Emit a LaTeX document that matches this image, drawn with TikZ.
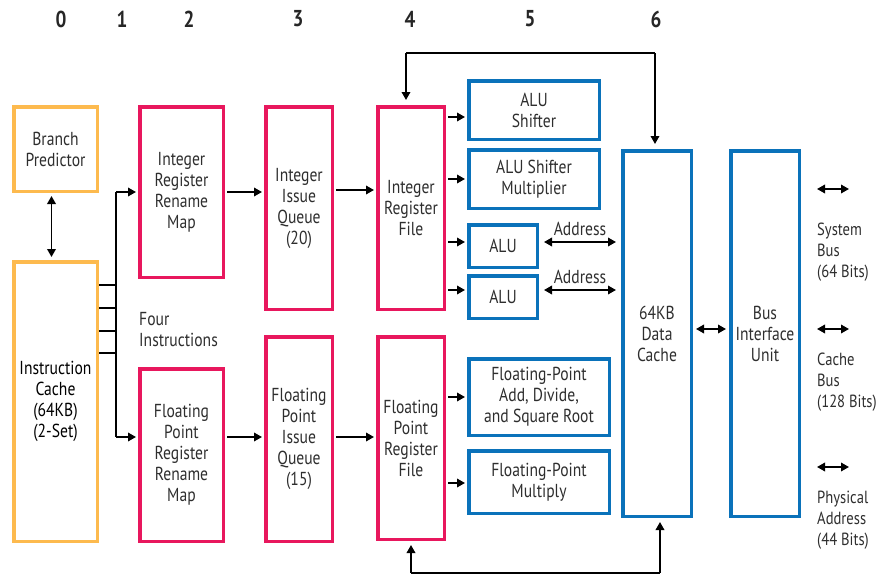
\documentclass[tikz,border=0pt]{standalone}
\usepackage{fontspec}
\setmainfont{PT Sans}[FakeStretch=0.83]
\usetikzlibrary{arrows.meta,calc}
\definecolor{orng}{HTML}{FDBA4E}
\definecolor{pnk}{HTML}{E8175D}
\definecolor{blu}{HTML}{0A72BA}
\definecolor{txt}{HTML}{2E2E2E}
\tikzset{
  box/.style={draw=#1, line width=3.5pt, inner sep=0pt, align=center, text=txt,
    font=\fontsize{18.8}{21}\selectfont},
  arr/.style={line width=1.8pt, -{Triangle[length=8pt,width=8.5pt]}},
  darr/.style={line width=1.8pt, {Triangle[length=8pt,width=8.5pt]}-{Triangle[length=8pt,width=8.5pt]}},
  ln/.style={line width=1.8pt},
  lbl/.style={text=txt, font=\fontsize{18.8}{21}\selectfont, inner sep=0pt},
  side/.style={text=txt, font=\fontsize{17.6}{21}\selectfont, inner sep=0pt, anchor=north west, align=left},
  num/.style={font=\fontsize{23}{23}\selectfont\bfseries, text=black!85, inner sep=0pt}
}
\begin{document}
\begin{tikzpicture}[x=1pt,y=-1pt]
\useasboundingbox (0,0) rectangle (879,576);
% stage numbers
\foreach \n/\x in {0/61,1/122,2/189,3/298,4/410,5/530,6/656}
  \node[num] (n\n) at (\x,19) {\n};
% boxes
\node[box=orng, minimum width=83.5pt, minimum height=84.5pt] (bp) at (55.5,149) {Branch\\Predictor};
\node[box=orng, minimum width=83.5pt, minimum height=279.5pt, text=black] (ic) at (55.5,401.5) {Instruction\\Cache\\(64KB)\\(2-Set)};
\node[box=pnk, minimum width=83.5pt, minimum height=170.5pt] (irm) at (181.5,192) {Integer\\Register\\Rename\\Map};
\node[box=pnk, minimum width=83.5pt, minimum height=172.5pt] (frm) at (181.5,455) {Floating\\Point\\Register\\Rename\\Map};
\node[box=pnk, minimum width=66.5pt, minimum height=202.5pt] (iiq) at (299,208) {Integer\\Issue\\Queue\\(20)};
\node[box=pnk, minimum width=66.5pt, minimum height=204.5pt] (fiq) at (299,439) {Floating\\Point\\Issue\\Queue\\(15)};
\node[box=pnk, minimum width=66.5pt, minimum height=202.5pt] (irf) at (411,208) {Integer\\Register\\File};
\node[box=pnk, minimum width=66.5pt, minimum height=202.5pt] (frf) at (411,438) {Floating\\Point\\Register\\File};
\node[box=blu, minimum width=130.5pt, minimum height=58.5pt] (alus) at (534,110) {ALU\\Shifter};
\node[box=blu, minimum width=130.5pt, minimum height=58.5pt] (alusm) at (534,179) {ALU Shifter\\Multiplier};
\node[box=blu, minimum width=68.5pt, minimum height=42.5pt] (alu1) at (503,246) {ALU};
\node[box=blu, minimum width=68.5pt, minimum height=42.5pt] (alu2) at (503,297) {ALU};
\node[box=blu, minimum width=140.5pt, minimum height=76.5pt] (fpa) at (539,397) {Floating-Point\\Add, Divide,\\and Square Root};
\node[box=blu, minimum width=140.5pt, minimum height=62.5pt] (fpm) at (539,482) {Floating-Point\\Multiply};
\node[box=blu, minimum width=68.5pt, minimum height=365.5pt] (dc) at (657,333.5) {64KB\\Data\\Cache};
\node[box=blu, minimum width=68.5pt, minimum height=365.5pt] (biu) at (765,333.5) {Bus\\Interface\\Unit};
% branch predictor <-> icache
\draw[darr, shorten <=3pt, shorten >=3pt] ($(bp.south)+(-4,0)$) -- ($(ic.north)+(-4,0)$);
% instruction bus
\coordinate (bustop) at (116,192);
\coordinate (busbot) at (116,437);
\foreach \y in {285,308,331,353}
  \draw[ln] (ic.east |- 0,\y) -- (116,\y);
\draw[ln] (bustop) -- (busbot);
\draw[arr, shorten >=2pt] (bustop) -- (irm.west |- bustop);
\draw[arr, shorten >=2pt] (busbot) -- (frm.west |- busbot);
\node[lbl, anchor=north west, align=left] (four) at (139,312) {Four\\Instructions};
% rename -> issue -> regfile
\draw[arr, shorten <=2pt, shorten >=2pt] (irm.east |- bustop) -- (iiq.west |- bustop);
\draw[arr, shorten <=2pt, shorten >=2pt] (frm.east |- busbot) -- (fiq.west |- busbot);
\draw[arr, shorten <=2pt, shorten >=2pt] (iiq.east |- 0,190) -- (irf.west |- 0,190);
\draw[arr, shorten <=2pt, shorten >=2pt] (fiq.east |- busbot) -- (frf.west |- busbot);
% regfile -> units
\draw[arr, shorten <=2pt, shorten >=2pt] (irf.east |- 0,117) -- (alus.west |- 0,117);
\draw[arr, shorten <=2pt, shorten >=2pt] (irf.east |- 0,179) -- (alusm.west |- 0,179);
\draw[arr, shorten <=2pt, shorten >=2pt] (irf.east |- 0,242) -- (alu1.west |- 0,242);
\draw[arr, shorten <=2pt, shorten >=2pt] (irf.east |- 0,290) -- (alu2.west |- 0,290);
\draw[arr, shorten <=2pt, shorten >=2pt] (frf.east |- 0,397) -- (fpa.west |- 0,397);
\draw[arr, shorten <=2pt, shorten >=2pt] (frf.east |- 0,483) -- (fpm.west |- 0,483);
% address
\draw[darr, shorten <=5pt, shorten >=5pt] (alu1.east |- 0,242) -- node[lbl, above=5pt] (ad1) {Address} (dc.west |- 0,242);
\draw[darr, shorten <=5pt, shorten >=5pt] (alu2.east |- 0,290) -- node[lbl, above=5pt] (ad2) {Address} (dc.west |- 0,290);
% feedback loops
\coordinate (ftl) at (406,53);
\coordinate (ftr) at (655,53);
\draw[ln] (ftl) -- (ftr);
\draw[arr, shorten >=5pt] (ftl) -- (ftl |- irf.north);
\draw[arr, shorten >=5pt] (ftr) -- (ftr |- dc.north);
\coordinate (fbl) at (411,573);
\coordinate (fbr) at (660,573);
\draw[ln] (fbl) -- (fbr);
\draw[arr, shorten >=4pt] (fbl) -- (fbl |- frf.south);
\draw[arr, shorten >=4pt] (fbr) -- (fbr |- dc.south);
% dcache <-> biu
\draw[darr, shorten <=3pt, shorten >=3pt] (dc.east |- 0,329) -- (biu.west |- 0,329);
% external buses
\coordinate (e1a) at (817,189); \coordinate (e1b) at (849,189);
\coordinate (e2a) at (817,329); \coordinate (e2b) at (849,329);
\coordinate (e3a) at (817,467); \coordinate (e3b) at (849,467);
\draw[darr] (e1a) -- (e1b);
\draw[darr] (e2a) -- (e2b);
\draw[darr] (e3a) -- (e3b);
\node[side] (sb) at (817,223) {System\\Bus\\(64 Bits)};
\node[side] (cb) at (817,353) {Cache\\Bus\\(128 Bits)};
\node[side] (pa) at (817,491) {Physical\\Address\\(44 Bits)};
\end{tikzpicture}
\end{document}
